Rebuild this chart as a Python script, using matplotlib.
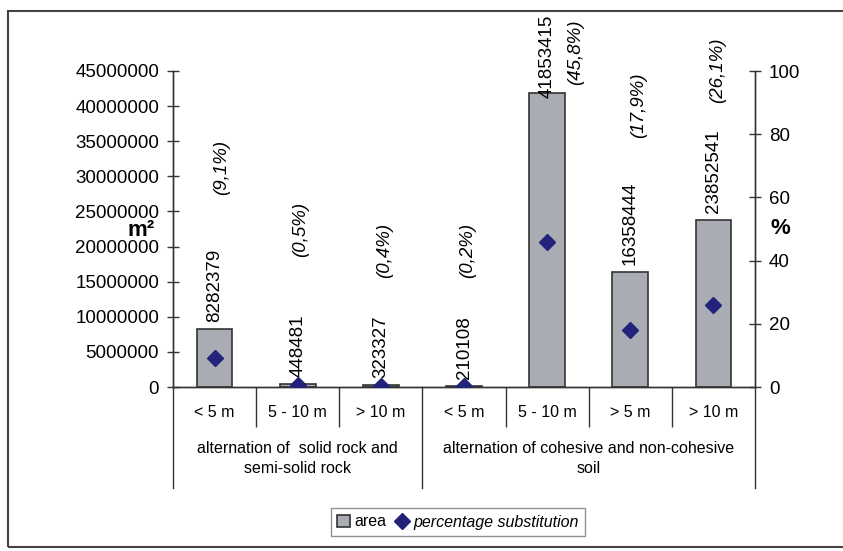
import matplotlib.pyplot as plt
from matplotlib.lines import Line2D
from matplotlib.patches import Rectangle
import matplotlib.transforms as mtransforms

plt.rcParams['font.family'] = ['Liberation Sans', 'DejaVu Sans']

# data
categories = ['< 5 m', '5 - 10 m', '> 10 m', '< 5 m', '5 - 10 m', '> 5 m', '> 10 m']
groups = ['alternation of  solid rock and\nsemi-solid rock',
          'alternation of cohesive and non-cohesive\nsoil']
group_sizes = [3, 4]
area = [8282379, 448481, 323327, 210108, 41853415, 16358444, 23852541]
percent = [9.1, 0.5, 0.4, 0.2, 45.8, 17.9, 26.1]
percent_labels = ['(9,1%)', '(0,5%)', '(0,4%)', '(0,2%)', '(45,8%)', '(17,9%)', '(26,1%)']

# label nudges in pixels (hand placed in the original)
val_lift = [7, 7, 7, 7, -5, 7, 7]
pct_lift = [134, 127, 107, 108, 8, 134, 117]
pct_dx = [7, 3, 4, 4, 28, 8, 4]

px = 0.72  # points per pixel at dpi 100

fig = plt.figure(figsize=(8.43, 5.51), dpi=100)
ax = fig.add_axes([173 / 843, 164 / 551, 582 / 843, 316 / 551])
ax2 = ax.twinx()

x = list(range(len(categories)))
bars = ax.bar(x, area, width=0.43, color='#a9acb2', edgecolor='#333333', linewidth=1.2,
              label='area', zorder=2)
ax.set_xlim(-0.5, len(categories) - 0.5)
ax.set_ylim(0, 45000000)
ax.set_yticks(range(0, 45000001, 5000000))
ax.set_yticklabels([str(v) for v in range(0, 45000001, 5000000)])

line, = ax2.plot(x, percent, linestyle='none', marker='D', markersize=8,
                 color='#22227a', label='percentage substitution', zorder=3)
ax2.set_ylim(0, 100)
ax2.set_yticks(range(0, 101, 20))

for a in (ax, ax2):
    a.spines['top'].set_visible(False)
    for s in ('left', 'right', 'bottom'):
        a.spines[s].set_color('#333333')
        a.spines[s].set_linewidth(1.0)
ax.tick_params(axis='y', direction='inout', length=8, width=1, color='#333333',
               labelsize=13.5, pad=6)
ax2.tick_params(axis='y', direction='inout', length=8, width=1, color='#333333',
                labelsize=13.5, pad=6)

# category labels and separators
ax.set_xticks(x)
ax.set_xticklabels(categories)
ax.tick_params(axis='x', which='major', length=0, labelsize=11.5, pad=13)
bounds = []
pos = -0.5
for g in group_sizes:
    pos += g
    bounds.append(pos)
inner = [b + 0.5 for b in x[:-1] if (b + 0.5) not in bounds]
ax.set_xticks(inner, minor=True)
ax.tick_params(axis='x', which='minor', direction='out', length=40 * px, width=1,
               color='#333333')

trans = mtransforms.blended_transform_factory(ax.transData, ax.transAxes)
for b in [-0.5] + bounds:
    ax.add_line(Line2D([b, b], [0, -101 / 316], transform=trans, color='#333333',
                       linewidth=1.0, clip_on=False))
start = -0.5
for name, g in zip(groups, group_sizes):
    ax.text(start + g / 2, -54 / 316, name, transform=trans, ha='center', va='top',
            fontsize=11.5, linespacing=1.45)
    start += g

# value and percentage labels
for i in x:
    ax.annotate(str(area[i]), xy=(i, area[i]), xytext=(0, val_lift[i] * px),
                textcoords='offset points', rotation=90, ha='center', va='bottom',
                fontsize=13.5)
    ax.annotate(percent_labels[i], xy=(i, area[i]),
                xytext=(pct_dx[i] * px, pct_lift[i] * px),
                textcoords='offset points', rotation=90, ha='center', va='bottom',
                fontsize=13.5, style='italic')

ax.text(-0.055, 0.494, 'm²', transform=ax.transAxes, ha='center', va='center',
        fontsize=16, fontweight='bold')
ax.text(1.043, 0.503, '%', transform=ax.transAxes, ha='center', va='center',
        fontsize=16, fontweight='bold')

leg = fig.legend(handles=[bars, line], labels=['area', 'percentage substitution'],
                 loc='center', bbox_to_anchor=(458 / 843, 29 / 551), ncol=2,
                 fontsize=11.5, frameon=True, fancybox=False, handlelength=0.8,
                 handletextpad=0.3, columnspacing=0.6, borderpad=0.4)
leg.get_frame().set_edgecolor('#777777')
leg.get_frame().set_linewidth(1.0)
leg.get_texts()[1].set_style('italic')

# outer chart frame
fig.patches.append(Rectangle((8 / 843, 4 / 551), 1.2, 536 / 551, transform=fig.transFigure,
                             fill=False, edgecolor='#444444', linewidth=1.5))

fig.savefig('out.png', dpi=100)
